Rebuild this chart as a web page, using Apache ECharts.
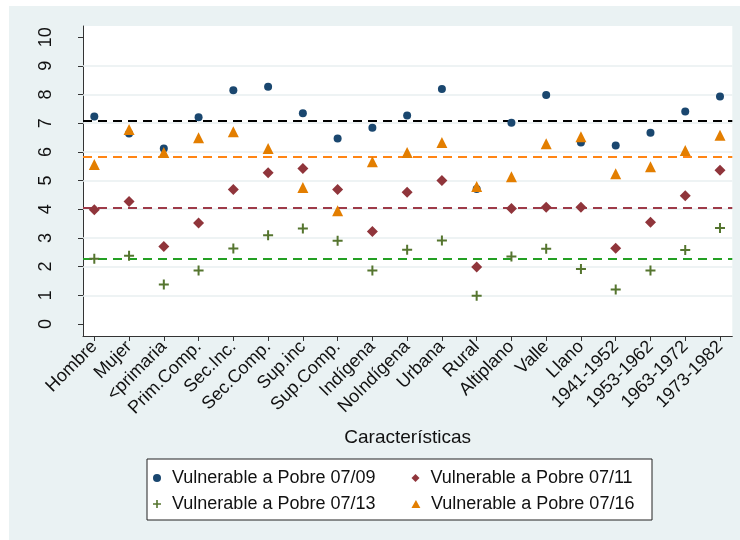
<!DOCTYPE html>
<html>
<head>
<meta charset="utf-8">
<script src="https://cdn.jsdelivr.net/npm/echarts@6/dist/echarts.min.js"></script>
<style>html,body{margin:0;padding:0;background:#fff;}#c{width:740px;height:540px;}</style>
</head>
<body>
<div id="c"></div>
<script>
const categories = ['Hombre','Mujer','<primaria','Prim.Comp.','Sec.Inc.','Sec.Comp.','Sup.inc','Sup.Comp.','Indígena','NoIndígena','Urbana','Rural','Altiplano','Valle','Llano','1941-1952','1953-1962','1963-1972','1973-1982'];
const s0709 = [7.23,6.64,6.12,7.21,8.15,8.27,7.35,6.47,6.84,7.27,8.19,4.71,7.02,7.98,6.33,6.22,6.67,7.41,7.93];
const s0711 = [3.98,4.27,2.70,3.52,4.69,5.27,5.42,4.69,3.22,4.59,5.00,1.99,4.03,4.07,4.07,2.64,3.55,4.47,5.36];
const s0713 = [2.27,2.38,1.38,1.86,2.63,3.09,3.33,2.90,1.86,2.59,2.91,0.98,2.35,2.62,1.92,1.20,1.86,2.58,3.35];
const s0716 = [5.56,6.78,5.98,6.49,6.70,6.12,4.76,3.95,5.66,5.98,6.33,4.79,5.13,6.28,6.53,5.24,5.48,6.05,6.58];
const seriesNames = ['Vulnerable a Pobre 07/09','Vulnerable a Pobre 07/11','Vulnerable a Pobre 07/13','Vulnerable a Pobre 07/16'];
const meanLines = [7.09, 4.05, 2.29, 5.83];
const yTicks = [0,1,2,3,4,5,6,7,8,9,10];
const gridValues = [1,2,3,4,5,6,7,8,9];

const xTicks = categories.map((c, i) => i);
const colors = ['#1a476f', '#90353b', '#55752f', '#e37e00'];
const lineColors = ['#000000', '#9e3a48', '#23a023', '#ff8514'];
const plusPath = 'path://M4,0H6V4H10V6H6V10H4V6H0V4H4Z';
const legendIcons = [
  'path://M5,0A5,5,0,1,1,5,10A5,5,0,1,1,5,0Z',
  'path://M5,0L10,5L5,10L0,5Z',
  plusPath,
  'path://M5,0L10,9L0,9Z'
];
const symbols = ['circle', 'diamond', plusPath, 'triangle'];
const symbolSizes = [8, 11, 10, 11];
const allData = [s0709, s0711, s0713, s0716];

const chart = echarts.init(document.getElementById('c'), null, {renderer: 'canvas'});

const series = allData.map((arr, k) => ({
  name: seriesNames[k],
  type: 'scatter',
  z: 10,
  symbol: symbols[k],
  symbolSize: symbolSizes[k],
  itemStyle: {color: colors[k], opacity: 1},
  data: arr.map((v, i) => [i, v]),
  markLine: {
    silent: true,
    z: 3,
    symbol: 'none',
    label: {show: false},
    lineStyle: {color: lineColors[k], width: 2, type: [9, 6]},
    data: [{yAxis: meanLines[k]}],
    animation: false
  }
}));

series.unshift({
  name: 'grid',
  type: 'scatter',
  z: 1,
  data: [],
  markLine: {
    silent: true,
    z: 1,
    symbol: 'none',
    label: {show: false},
    lineStyle: {color: '#e8eff1', width: 1.5, type: 'solid'},
    data: gridValues.map(v => ({yAxis: v})),
    animation: false
  }
});

const legendCommon = {
  left: 148,
  itemWidth: 20,
  itemHeight: 8,
  itemGap: 36,
  selectedMode: false,
  symbolKeepAspect: true,
  textStyle: {fontSize: 18, color: '#111', fontFamily: 'Liberation Sans, Arial, sans-serif'}
};

const option = {
  backgroundColor: '#eaf2f3',
  animation: false,
  textStyle: {fontFamily: 'Liberation Sans, Arial, sans-serif'},
  graphic: [
    {type: 'rect', shape: {x: 0, y: 0, width: 740, height: 6}, style: {fill: '#fff'}, silent: true},
    {type: 'rect', shape: {x: 0, y: 0, width: 9, height: 540}, style: {fill: '#fff'}, silent: true},
    {type: 'rect', shape: {x: 147, y: 459, width: 505, height: 61}, style: {fill: '#fff', stroke: '#222', lineWidth: 1}, silent: true}
  ],
  grid: {
    left: 83, top: 26, right: 7.7, bottom: 204,
    show: true, backgroundColor: '#fff', borderWidth: 0,
    containLabel: false
  },
  legend: [
    Object.assign({}, legendCommon, {top: 464, data: [
      {name: seriesNames[0], icon: legendIcons[0]},
      {name: seriesNames[1], icon: legendIcons[1]}
    ]}),
    Object.assign({}, legendCommon, {top: 490, data: [
      {name: seriesNames[2], icon: legendIcons[2]},
      {name: seriesNames[3], icon: legendIcons[3]}
    ]})
  ],
  xAxis: {
    type: 'value',
    min: -0.325,
    max: 18.354,
    name: 'Características',
    nameLocation: 'middle',
    nameGap: 92,
    nameTextStyle: {fontSize: 19, color: '#111'},
    axisLine: {show: true, onZero: false, lineStyle: {color: '#333', width: 1}},
    axisTick: {show: true, length: 5, customValues: xTicks, lineStyle: {color: '#333'}},
    axisLabel: {
      show: true, customValues: xTicks, rotate: 45, margin: 8,
      fontSize: 18, color: '#111',
      formatter: v => categories[Math.round(v)]
    },
    splitLine: {show: false}
  },
  yAxis: {
    type: 'value',
    min: -0.42,
    max: 10.39,
    axisLine: {show: true, onZero: false, lineStyle: {color: '#333', width: 1}},
    axisTick: {show: true, length: 5, customValues: yTicks, lineStyle: {color: '#333'}},
    axisLabel: {show: true, customValues: yTicks, rotate: 90, margin: 28, fontSize: 18, color: '#111'},
    splitLine: {show: false}
  },
  series: series
};
chart.setOption(option);
</script>
</body>
</html>
